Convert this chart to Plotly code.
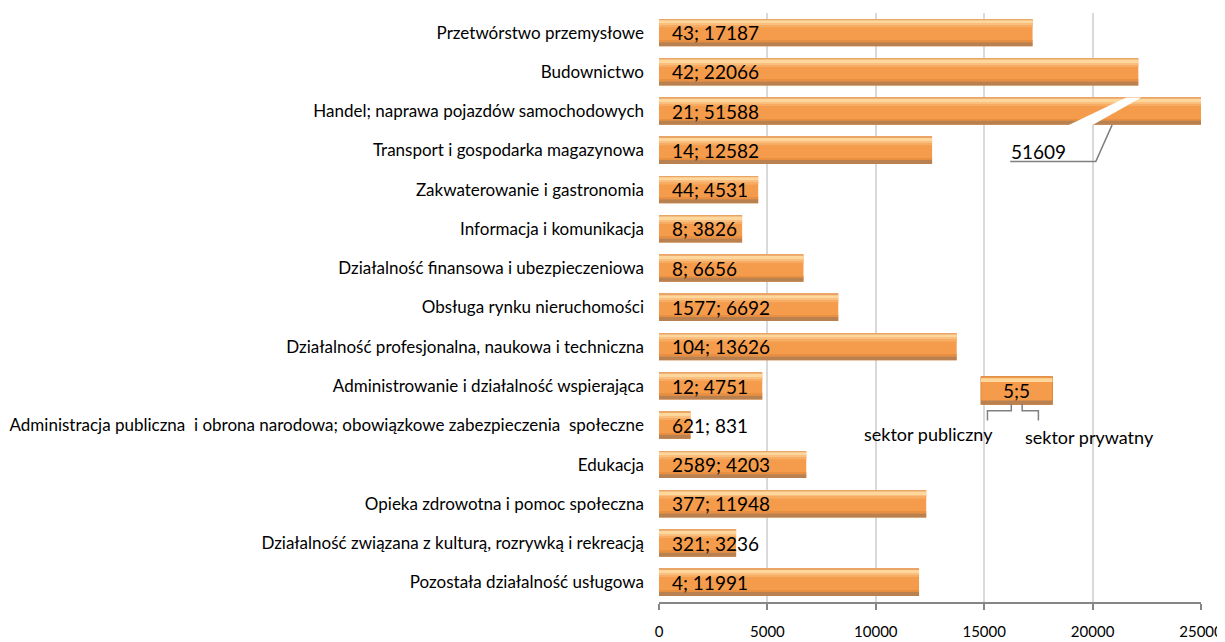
import plotly.graph_objects as go

# categories (top to bottom)
categories = [
    'Przetwórstwo przemysłowe',
    'Budownictwo',
    'Handel; naprawa pojazdów samochodowych',
    'Transport i gospodarka magazynowa',
    'Zakwaterowanie i gastronomia',
    'Informacja i komunikacja',
    'Działalność finansowa i ubezpieczeniowa',
    'Obsługa rynku nieruchomości',
    'Działalność profesjonalna, naukowa i techniczna',
    'Administrowanie i działalność wspierająca',
    'Administracja publiczna  i obrona narodowa; obowiązkowe zabezpieczenia  społeczne',
    'Edukacja',
    'Opieka zdrowotna i pomoc społeczna',
    'Działalność związana z kulturą, rozrywką i rekreacją',
    'Pozostała działalność usługowa',
]
public_sector = [43, 42, 21, 14, 44, 8, 8, 1577, 104, 12, 621, 2589, 377, 321, 4]
private_sector = [17187, 22066, 51588, 12582, 4531, 3826, 6656, 6692, 13626, 4751, 831, 4203, 11948, 3236, 11991]
x_ticks = [0, 5000, 10000, 15000, 20000, 25000]

totals = [p + q for p, q in zip(public_sector, private_sector)]
labels = [f'{p}; {q}' for p, q in zip(public_sector, private_sector)]

FONT = 'Lato'

fig = go.Figure()

# layered bars to imitate the bevelled orange gradient
layers = [
    # (offset, width, colour)
    (-0.345, 0.69, '#F49C4B'),
    (-0.345, 0.03, '#E9A466'),
    (-0.315, 0.09, '#FDD79C'),
    (-0.225, 0.05, '#FABF7E'),
    (-0.175, 0.04, '#F7AC63'),
    (0.20, 0.045, '#E88F42'),
    (0.245, 0.10, '#B98050'),
]
for off, w, col in layers:
    fig.add_trace(go.Bar(
        y=categories, x=totals, orientation='h',
        offset=off, width=w,
        marker=dict(color=col, line=dict(width=0)),
        hoverinfo='skip', showlegend=False,
    ))

# value labels "public; private" at the start of every bar
for cat, lab in zip(categories, labels):
    fig.add_annotation(
        x=0, y=cat, text=lab, showarrow=False,
        xanchor='left', xshift=11, yshift=0,
        font=dict(family=FONT, size=19, color='#000000'),
    )

# axis break on the long "Handel" bar
hi = categories.index('Handel; naprawa pojazdów samochodowych')
fig.add_shape(type='path', xref='x', yref='y',
              path=f'M 18900 {hi + 0.35} L 20000 {hi + 0.35} L 22250 {hi - 0.35} L 21550 {hi - 0.35} Z',
              fillcolor='white', line=dict(width=0))
fig.add_shape(type='path', xref='x', yref='y',
              path=f'M 20900 {hi + 0.35} L 20150 {hi + 1.28} L 16200 {hi + 1.28}',
              line=dict(color='#808080', width=1.5))
fig.add_annotation(x=16150, y=hi + 1.02, xref='x', yref='y', text=str(totals[hi]),
                   showarrow=False, xanchor='left',
                   font=dict(family=FONT, size=19, color='#000000'))

# hand made legend "5;5"
ly = categories.index('Administrowanie i działalność wspierająca')
fig.add_shape(type='rect', xref='x', yref='y', x0=14850, x1=18150, y0=ly - 0.24, y1=ly + 0.47,
              fillcolor='#F49C4B', line=dict(color='#D98A40', width=1))
fig.add_shape(type='rect', xref='x', yref='y', x0=14850, x1=18150, y0=ly - 0.2, y1=ly - 0.1,
              fillcolor='#FDD79C', line=dict(width=0))
fig.add_shape(type='rect', xref='x', yref='y', x0=14850, x1=18150, y0=ly + 0.37, y1=ly + 0.47,
              fillcolor='#B98050', line=dict(width=0))
fig.add_annotation(x=16500, y=ly + 0.12, xref='x', yref='y', text='5;5', showarrow=False,
                   font=dict(family=FONT, size=19, color='#000000'))
fig.add_shape(type='path', xref='x', yref='y',
              path=f'M 16250 {ly + 0.45} L 16250 {ly + 0.63} L 15150 {ly + 0.63} L 15150 {ly + 0.88}',
              line=dict(color='#808080', width=1.5))
fig.add_shape(type='path', xref='x', yref='y',
              path=f'M 16750 {ly + 0.45} L 16750 {ly + 0.63} L 17500 {ly + 0.63} L 17500 {ly + 0.88}',
              line=dict(color='#808080', width=1.5))
fig.add_annotation(x=12450, y=ly + 1.23, xref='x', yref='y', text='sektor publiczny', showarrow=False,
                   font=dict(family=FONT, size=18, color='#000000'))
fig.add_annotation(x=19850, y=ly + 1.3, xref='x', yref='y', text='sektor prywatny', showarrow=False,
                   font=dict(family=FONT, size=18, color='#000000'))

# the page adds an 8px body margin, so the figure is a little smaller than the window
fig.update_layout(
    width=1217, height=634,
    barmode='overlay',
    plot_bgcolor='white', paper_bgcolor='white',
    margin=dict(l=651, r=24, t=5, b=40),
    font=dict(family=FONT, color='#000000'),
    xaxis=dict(
        range=[0, 25000], tickvals=x_ticks, ticktext=[str(t) for t in x_ticks],
        showgrid=True, gridcolor='#D9D9D9', gridwidth=2,
        showline=True, linecolor='#868686', linewidth=2,
        ticks='outside', ticklen=6, tickcolor='#868686', tickwidth=2,
        tickfont=dict(family=FONT, size=15), zeroline=False,
        ticklabelstandoff=9, automargin=False,
    ),
    yaxis=dict(
        autorange='reversed', showgrid=False, showline=False, ticks='',
        tickfont=dict(family=FONT, size=17), ticklabelstandoff=14,
        automargin=False,
    ),
)

fig.write_html('out.html')
